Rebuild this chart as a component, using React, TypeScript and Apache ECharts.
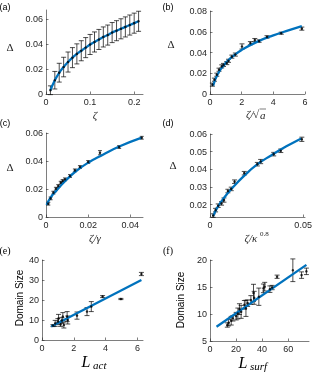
import React, { useEffect, useRef } from "react";
import * as echarts from "echarts";

// Panel (a)
const aX = [0.01, 0.02, 0.03, 0.04, 0.05, 0.06, 0.07, 0.08, 0.09, 0.1, 0.11, 0.12, 0.13, 0.14, 0.15, 0.16, 0.17, 0.18, 0.19, 0.2, 0.21];
const aY = [0.003, 0.011, 0.017, 0.0215, 0.0255, 0.029, 0.032, 0.0345, 0.037, 0.0395, 0.0415, 0.0435, 0.0455, 0.047, 0.049, 0.0505, 0.052, 0.0535, 0.055, 0.0565, 0.058];
const aErr = [0.0035, 0.007, 0.0075, 0.0078, 0.008, 0.008, 0.008, 0.008, 0.008, 0.008, 0.008, 0.008, 0.008, 0.008, 0.008, 0.008, 0.008, 0.008, 0.008, 0.008, 0.008];

// Panel (b)
const bX = [0.15, 0.28, 0.43, 0.57, 0.74, 0.85, 1.06, 1.17, 1.38, 1.6, 2.02, 2.55, 2.83, 3.1, 3.6, 4.5, 5.8];
const bY = [0.009, 0.0138, 0.0186, 0.0234, 0.0266, 0.028, 0.0298, 0.032, 0.036, 0.038, 0.0458, 0.049, 0.052, 0.051, 0.055, 0.0586, 0.063];
const bErr = [0.0015, 0.0015, 0.0015, 0.0015, 0.0015, 0.0015, 0.0015, 0.0015, 0.0015, 0.0015, 0.0025, 0.0015, 0.0015, 0.0012, 0.0012, 0.001, 0.0015];
const bFit = [[0.2, 0.008], [0.5, 0.0195], [1, 0.03], [1.5, 0.037], [2, 0.0425], [3, 0.0505], [4, 0.0565], [5, 0.0615], [5.8, 0.0655]];

// Panel (c)
const cX = [0.0011, 0.0022, 0.0035, 0.0047, 0.0058, 0.007, 0.0079, 0.009, 0.0114, 0.0137, 0.0161, 0.02, 0.0256, 0.0347, 0.0454];
const cY = [0.0095, 0.0133, 0.0174, 0.0202, 0.0221, 0.0245, 0.0257, 0.0269, 0.0293, 0.0333, 0.0357, 0.0393, 0.0459, 0.05, 0.0566];
const cErr = [0.001, 0.001, 0.001, 0.001, 0.001, 0.001, 0.001, 0.001, 0.001, 0.001, 0.001, 0.001, 0.0015, 0.001, 0.001];
const cFit = [[0.0003, 0.0086], [0.002, 0.0135], [0.005, 0.019], [0.009, 0.0255], [0.014, 0.0325], [0.02, 0.0388], [0.027, 0.0445], [0.035, 0.0505], [0.0454, 0.0567]];

// Panel (d)
const dX = [0.0017, 0.003, 0.0044, 0.0062, 0.0075, 0.0096, 0.0114, 0.0132, 0.0184, 0.0254, 0.0272, 0.0342, 0.038, 0.0493];
const dY = [0.0138, 0.0169, 0.0194, 0.0207, 0.0226, 0.0277, 0.0289, 0.033, 0.0378, 0.0429, 0.0444, 0.0486, 0.0505, 0.057];
const dErr = [0.001, 0.001, 0.001, 0.001, 0.0012, 0.001, 0.001, 0.001, 0.001, 0.001, 0.0012, 0.001, 0.001, 0.0012];
const dFit = [[0.0017, 0.0135], [0.004, 0.0185], [0.008, 0.0245], [0.012, 0.0295], [0.018, 0.036], [0.025, 0.0425], [0.033, 0.048], [0.041, 0.053], [0.049, 0.0575]];

// Panel (e)
const eX = [0.69, 0.83, 1.0, 1.04, 1.17, 1.25, 1.31, 1.375, 1.58, 1.62, 2.2, 2.83, 3.1, 3.81, 4.96, 6.25];
const eY = [7.2, 8.3, 9.2, 10.8, 7.8, 9.8, 11.7, 7.5, 11.7, 10, 12.2, 14.2, 16.7, 21.7, 20.5, 33];
const eErr = [0.5, 1.5, 1.5, 2, 1, 1.5, 2, 1.5, 2.5, 2, 1.8, 2, 2.5, 0.5, 0.3, 0.8];
const eFit = [[0.58, 6.7], [6.25, 30]];

// Panel (f)
const fX = [13.3, 14.3, 16.3, 17.6, 20.1, 21.4, 22.6, 23.9, 26.4, 27.6, 28.9, 31.4, 33.4, 33.9, 37.5, 41, 42, 46, 47.7, 51.5, 63.6, 70.3, 74];
const fY = [7.96, 8.4, 8.76, 9.2, 9.6, 10.1, 10.9, 10.4, 11.7, 11.05, 12, 12.6, 13.9, 13, 13.2, 14.75, 15.06, 14.6, 14.9, 16.9, 18.1, 17.2, 17.9];
const fErr = [0.4, 0.6, 0.8, 0.5, 0.7, 1, 1, 1.2, 0.8, 1.5, 0.6, 0.8, 1.6, 1.2, 1.6, 0.8, 0.8, 0.6, 0.4, 0.3, 2.1, 0.6, 0.6];
const fFit = [[5, 7.65], [74, 19.1]];

const BLUE = "#0072BD";
const INK = "#262626";
const SANS = "Liberation Sans";
const SERIF = "Liberation Serif";

function pairs(xs: number[], ys: number[]) {
  return xs.map((x, i) => [x, ys[i]]);
}
function bars(xs: number[], ys: number[], es: number[]) {
  return xs.map((x, i) => [x, ys[i] - es[i], ys[i] + es[i]]);
}

function errRender(cap: number) {
  return (params: any, api: any) => {
    const x = api.value(0);
    const lo = api.coord([x, api.value(1)]);
    const hi = api.coord([x, api.value(2)]);
    const style = { stroke: "#000", lineWidth: 0.7 };
    return {
      type: "group",
      children: [
        { type: "line", shape: { x1: lo[0], y1: lo[1], x2: hi[0], y2: hi[1] }, style },
        { type: "line", shape: { x1: lo[0] - cap, y1: lo[1], x2: lo[0] + cap, y2: lo[1] }, style },
        { type: "line", shape: { x1: hi[0] - cap, y1: hi[1], x2: hi[0] + cap, y2: hi[1] }, style },
      ],
    };
  };
}

function axis(i: number, min: number, max: number, interval?: number, labelExtra: any = {}) {
  const a: any = {
    type: "value",
    gridIndex: i,
    min,
    max,
    axisLine: { show: true, onZero: false, lineStyle: { color: INK, width: 0.6 } },
    axisTick: { show: true, inside: true, length: 2.5, lineStyle: { color: INK, width: 0.6 } },
    axisLabel: Object.assign({ fontSize: 9, color: INK, fontFamily: SANS, margin: 3 }, labelExtra),
    splitLine: { show: false },
  };
  if (interval !== undefined) a.interval = interval;
  return a;
}

function panelSeries(i: number, xs: number[], ys: number[], es: number[], fit: number[][], cap: number) {
  return [
    {
      type: "custom",
      xAxisIndex: i,
      yAxisIndex: i,
      renderItem: errRender(cap),
      encode: { x: 0, y: [1, 2] },
      data: bars(xs, ys, es),
      z: 2,
      silent: true,
    },
    {
      type: "line",
      xAxisIndex: i,
      yAxisIndex: i,
      data: fit,
      smooth: true,
      showSymbol: false,
      symbol: "none",
      lineStyle: { color: BLUE, width: 2.3 },
      z: 3,
      silent: true,
    },
    {
      type: "scatter",
      xAxisIndex: i,
      yAxisIndex: i,
      data: pairs(xs, ys),
      symbolSize: 2.5,
      itemStyle: { color: "#000" },
      z: 4,
      silent: true,
    },
  ];
}

function txt(x: number, y: number, text: string, extra: any = {}) {
  return {
    type: "text",
    x,
    y,
    style: Object.assign(
      { text, fontSize: 10, fontFamily: SERIF, fill: INK, align: "center", verticalAlign: "middle" },
      extra
    ),
  };
}

const noMax = { showMaxLabel: false };

export default function App() {
  const ref = useRef<HTMLDivElement>(null);
  useEffect(() => {
    const chart = echarts.init(ref.current!, null, { renderer: "svg" });
    const option: any = {
      animation: false,
      grid: [
        { left: 46, top: 10, width: 97, height: 84 },
        { left: 210, top: 11, width: 95, height: 83 },
        { left: 46, top: 133, width: 97, height: 84 },
        { left: 210, top: 134, width: 95, height: 83 },
        { left: 42, top: 260, width: 101, height: 80 },
        { left: 210, top: 260, width: 99, height: 81 },
      ],
      xAxis: [
        axis(0, 0, 0.22, 0.1, noMax),
        axis(1, 0, 6, 2),
        axis(2, 0, 0.046, 0.02, noMax),
        axis(3, 0, 0.051, 0.05, noMax),
        axis(4, 0, 6.35, 2, noMax),
        axis(5, 0, 76, 20, noMax),
      ],
      yAxis: [
        axis(0, 0, 0.067, 0.02, noMax),
        axis(1, 0, 0.08, 0.02),
        axis(2, 0, 0.06, 0.02),
        axis(3, 0.013, 0.06, undefined, { showMinLabel: false }),
        axis(4, 0, 40, 10),
        axis(5, 5, 20, 5),
      ],
      series: [
        ...panelSeries(0, aX, aY, aErr, pairs(aX, aY), 2.5),
        ...panelSeries(1, bX, bY, bErr, bFit, 2.5),
        ...panelSeries(2, cX, cY, cErr, cFit, 2),
        ...panelSeries(3, dX, dY, dErr, dFit, 2.5),
        ...panelSeries(4, eX, eY, eErr, eFit, 2.5),
        ...panelSeries(5, fX, fY, fErr, fFit, 2.5),
      ],
      graphic: [
        // panel tags
        txt(5, 7, "(a)", { fontFamily: SANS, fontSize: 9, fill: "#000" }),
        txt(168, 7, "(b)", { fontFamily: SANS, fontSize: 9, fill: "#000" }),
        txt(5, 123, "(c)", { fontFamily: SANS, fontSize: 9, fill: "#000" }),
        txt(168, 123, "(d)", { fontFamily: SANS, fontSize: 9, fill: "#000" }),
        txt(5, 250, "(e)", { fontSize: 10, fill: "#000" }),
        txt(168, 250, "(f)", { fontSize: 10, fill: "#000" }),
        // y labels Delta
        txt(10, 47, "Δ", { fontSize: 11 }),
        txt(171, 44, "Δ", { fontSize: 11 }),
        txt(10, 167, "Δ", { fontSize: 11 }),
        txt(173, 165, "Δ", { fontSize: 11 }),
        // x labels row 1
        txt(95, 115, "ζ", { fontSize: 11, fontStyle: "italic" }),
        txt(246, 114, "ζ/", { fontSize: 11, fontStyle: "italic", align: "left" }),
        txt(253, 114, "√", { fontSize: 11, align: "left" }),
        txt(260, 115, "a", { fontSize: 11, fontStyle: "italic", align: "left" }),
        { type: "line", shape: { x1: 259.5, y1: 109, x2: 266, y2: 109 }, style: { stroke: INK, lineWidth: 0.6 } },
        // x labels row 2
        txt(95, 238, "ζ/γ", { fontSize: 11, fontStyle: "italic" }),
        txt(251, 238, "ζ/κ", { fontSize: 11, fontStyle: "italic" }),
        txt(260, 234, "0.8", { fontSize: 7, align: "left" }),
        // row 3 labels
        {
          type: "text",
          x: 19,
          y: 298,
          rotation: Math.PI / 2,
          style: { text: "Domain Size", fontSize: 10, fontFamily: SANS, fill: "#000", align: "center", verticalAlign: "middle" },
        },
        {
          type: "text",
          x: 180,
          y: 300,
          rotation: Math.PI / 2,
          style: { text: "Domain Size", fontSize: 10, fontFamily: SANS, fill: "#000", align: "center", verticalAlign: "middle" },
        },
        txt(86, 361, "L", { fontSize: 16, fontStyle: "italic", fill: "#000" }),
        txt(93, 365, "act", { fontSize: 11, fontStyle: "italic", fill: "#000", align: "left" }),
        txt(243, 362, "L", { fontSize: 16, fontStyle: "italic", fill: "#000" }),
        txt(250, 366, "surf", { fontSize: 11, fontStyle: "italic", fill: "#000", align: "left" }),
      ],
    };
    chart.setOption(option);
    return () => chart.dispose();
  }, []);
  return <div ref={ref} style={{ position: "fixed", left: 0, top: 0, width: 322, height: 372 }} />;
}
